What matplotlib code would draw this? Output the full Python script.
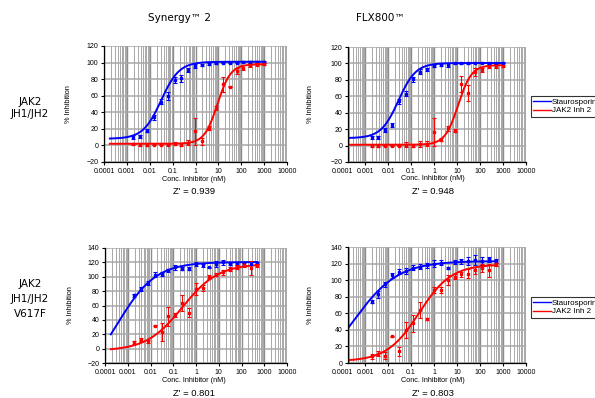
import numpy as np
import matplotlib
matplotlib.use('Agg')
import matplotlib.pyplot as plt
from matplotlib.lines import Line2D
from matplotlib.ticker import LogLocator, NullFormatter, FixedLocator

# inhibitor concentrations (nM), 2-fold serial dilution
conc = [0.0019, 0.0038, 0.0076, 0.0153, 0.0305, 0.061, 0.122, 0.244, 0.488, 0.977,
        1.95, 3.9, 7.8, 15.6, 31.25, 62.5, 125, 250, 500, 1000]
conc_v617f = conc[:-1]

# JAK2 JH1/JH2 - Synergy 2
syn_wt_stau = [10, 11, 18, 34, 53, 60, 79, 81, 91, 96, 97, 98, 99, 100, 100, 100, 101, 101, 101, 101]
syn_wt_stau_err = [2, 2, 2, 3, 3, 5, 4, 4, 2, 2, 1, 1, 1, 1, 1, 1, 1, 1, 1, 1]
syn_wt_inh = [2, 1, 1, 1, 1, 1, 2, 1, 3, 17, 5, 21, 45, 74, 71, 90, 94, 97, 98, 98]
syn_wt_inh_err = [1, 2, 2, 1, 1, 1, 2, 2, 3, 16, 4, 2, 2, 9, 1, 4, 3, 2, 2, 1]

# JAK2 JH1/JH2 - FLX800
flx_wt_stau = [10, 10, 19, 25, 54, 63, 81, 90, 93, 97, 98, 98, 100, 100, 100, 101, 101, 100, 100, 101]
flx_wt_stau_err = [2, 2, 2, 2, 3, 3, 3, 3, 2, 1, 1, 2, 1, 1, 1, 1, 1, 1, 1, 1]
flx_wt_inh = [0, 0, 0, 0, 0, 1, 0, 2, 2, 17, 7, 21, 18, 75, 64, 90, 92, 96, 97, 97]
flx_wt_inh_err = [2, 2, 1, 1, 1, 3, 2, 4, 3, 17, 2, 3, 2, 10, 10, 5, 3, 2, 2, 1]

# JAK2 JH1/JH2 V617F - Synergy 2
syn_mut_stau = [74, 83, 91, 103, 104, 109, 113, 111, 111, 118, 116, 113, 118, 120, 118, 119, 119, 118, 119]
syn_mut_stau_err = [2, 3, 3, 4, 3, 2, 4, 2, 2, 3, 2, 1, 4, 4, 1, 2, 2, 2, 1]
syn_mut_inh = [9, 12, 10, 32, 23, 45, 47, 64, 50, 83, 84, 100, 103, 106, 111, 114, 116, 112, 116]
syn_mut_inh_err = [2, 3, 2, 1, 13, 13, 3, 11, 6, 9, 4, 3, 2, 3, 3, 3, 3, 10, 2]

# JAK2 JH1/JH2 V617F - FLX800
flx_mut_stau = [74, 83, 95, 106, 110, 111, 115, 116, 118, 120, 121, 115, 122, 123, 123, 124, 123, 125, 123]
flx_mut_stau_err = [2, 4, 3, 3, 3, 4, 3, 3, 3, 4, 3, 1, 2, 3, 5, 6, 5, 3, 2]
flx_mut_inh = [8, 11, 9, 32, 14, 40, 48, 64, 53, 88, 88, 100, 104, 107, 108, 112, 115, 112, 119]
flx_mut_inh_err = [3, 3, 4, 1, 5, 10, 10, 10, 1, 4, 4, 6, 3, 3, 5, 4, 5, 8, 2]

# fitted curves (bottom, top, logIC50, hill)
fit_syn_wt = [(8, 101, -1.50, 1.1), (2, 98, 0.96, 1.5)]
fit_flx_wt = [(9, 100.5, -1.55, 1.15), (1, 98, 1.05, 1.5)]
fit_syn_mut = [(-50, 120.5, -3.44, 0.52), (-3, 118, -0.60, 0.55)]
fit_flx_mut = [(-20, 123, -3.49, 0.45), (2, 119, -0.65, 0.62)]

z_prime = ['0.939', '0.948', '0.801', '0.803']
xtick_vals = [1e-4, 1e-3, 1e-2, 1e-1, 1, 10, 100, 1000, 10000]
xtick_labels = ['0.0001', '0.001', '0.01', '0.1', '1', '10', '100', '1000', '10000']
series_names = ['Staurosporine', 'JAK2 Inh 2']

BLUE = '#0000ff'
RED = '#ff0000'
W, H = 595, 398


def four_pl(x, bottom, top, logic50, hill):
    return bottom + (top - bottom) / (1 + 10 ** ((logic50 - np.log10(x)) * hill))


def box(l, r, t, b):
    return [l / W, 1 - b / H, (r - l) / W, (b - t) / H]


fig = plt.figure(figsize=(W / 100, H / 100), dpi=100)
fig.patch.set_facecolor('white')
tickfont = 'Liberation Sans'


def panel(rect, x, stau, stau_err, inh, inh_err, fits, ylim, yticks, xmin, z, lab_pos):
    ax = fig.add_axes(box(*rect))
    ax.set_xscale('log')
    ax.set_xlim(xmin, 1e4)
    ax.set_ylim(*ylim)
    ax.xaxis.set_major_locator(FixedLocator(xtick_vals))
    ax.set_xticklabels(xtick_labels)
    ax.xaxis.set_minor_locator(LogLocator(base=10, subs=np.arange(2, 10), numticks=20))
    ax.xaxis.set_minor_formatter(NullFormatter())
    ax.set_yticks(yticks)
    ax.grid(True, which='minor', axis='x', color='#a8a8a8', lw=0.7)
    ax.grid(True, which='major', axis='x', color='#8c8c8c', lw=1.0)
    ax.grid(True, which='major', axis='y', color='#a8a8a8', lw=1.1)
    ax.set_axisbelow(True)
    for s in ['top', 'right']:
        ax.spines[s].set_visible(False)
    for s in ['left', 'bottom']:
        ax.spines[s].set_linewidth(0.9)
    ax.tick_params(which='major', length=2.5, width=0.8, labelsize=5, pad=1.5)
    ax.tick_params(which='minor', length=0)
    for t in ax.get_xticklabels() + ax.get_yticklabels():
        t.set_fontfamily(tickfont)
    if xmin > 1e-4:
        ax.annotate('0.0001', xy=(1e-4, 0), xycoords=('data', 'axes fraction'),
                    xytext=(0, -4.0), textcoords='offset points', ha='center', va='top',
                    fontsize=5, family=tickfont, annotation_clip=False)

    xc = np.logspace(np.log10(1.8e-4), np.log10(x[-1]), 300)
    for vals, errs, fit, col in [(stau, stau_err, fits[0], BLUE), (inh, inh_err, fits[1], RED)]:
        ax.plot(xc, four_pl(xc, *fit), color=col, lw=1.4)
        ax.errorbar(x, vals, yerr=errs, fmt='s', color=col, ms=1.5, elinewidth=0.8,
                    capsize=1.5, capthick=0.8)

    cx, ylab_x, xlab_y, z_y = lab_pos
    fig.text(cx / W, 1 - xlab_y / H, 'Conc. Inhibitor (nM)', ha='center', va='center',
             fontsize=5.2, family=tickfont)
    fig.text(cx / W, 1 - z_y / H, "Z' = " + z, ha='center', va='center',
             fontsize=6.8, family=tickfont)
    ymid = (rect[2] + rect[3]) / 2
    fig.text(ylab_x / W, 1 - ymid / H, '% Inhibition', rotation=90, ha='center',
             va='center', fontsize=5.3, family=tickfont)
    return ax


top_ticks = list(range(-20, 121, 20))
ax1 = panel((104, 287, 46, 162), conc, syn_wt_stau, syn_wt_stau_err, syn_wt_inh, syn_wt_inh_err,
            fit_syn_wt, (-20, 120), top_ticks, 1e-4, z_prime[0], (194, 68, 180, 192))
ax2 = panel((348, 526, 47, 162), conc, flx_wt_stau, flx_wt_stau_err, flx_wt_inh, flx_wt_inh_err,
            fit_flx_wt, (-20, 120), top_ticks, 1.8e-4, z_prime[1], (433, 310, 179, 192))
ax3 = panel((105, 287, 248, 363), conc_v617f, syn_mut_stau, syn_mut_stau_err, syn_mut_inh,
            syn_mut_inh_err, fit_syn_mut, (-20, 140), list(range(-20, 141, 20)), 1e-4,
            z_prime[2], (194, 70, 381, 393))
ax4 = panel((348, 526, 247, 363), conc_v617f, flx_mut_stau, flx_mut_stau_err, flx_mut_inh,
            flx_mut_inh_err, fit_flx_mut, (0, 140), list(range(0, 141, 20)), 1.8e-4,
            z_prime[3], (433, 310, 381, 393))

# column titles and row labels
fig.text(180 / W, 1 - 18 / H, 'Synergy™ 2', ha='center', va='center', fontsize=7.5,
         family='DejaVu Sans')
fig.text(380 / W, 1 - 18 / H, 'FLX800™', ha='center', va='center', fontsize=7.5,
         family='DejaVu Sans')
fig.text(30 / W, 1 - 108 / H, 'JAK2\nJH1/JH2', ha='center', va='center', fontsize=7.5,
         family='DejaVu Sans', linespacing=1.35)
fig.text(30 / W, 1 - 299 / H, 'JAK2\nJH1/JH2\nV617F', ha='center', va='center', fontsize=7.5,
         family='DejaVu Sans', linespacing=1.6)

# legends run past the right edge of the figure, as in the original
handles = [Line2D([], [], color=BLUE, lw=1.0), Line2D([], [], color=RED, lw=1.0)]
for ytop in [95.5, 296.5]:
    leg = fig.legend(handles, series_names, loc='upper left',
                     bbox_to_anchor=(531 / W, 1 - ytop / H),
                     prop={'family': tickfont, 'size': 5.8}, frameon=True, fancybox=False,
                     handlelength=2.2, handletextpad=0.1, borderpad=0.3, labelspacing=0.15,
                     borderaxespad=0)
    leg.get_frame().set_edgecolor('black')
    leg.get_frame().set_linewidth(0.8)

fig.savefig('out.png', dpi=100)
